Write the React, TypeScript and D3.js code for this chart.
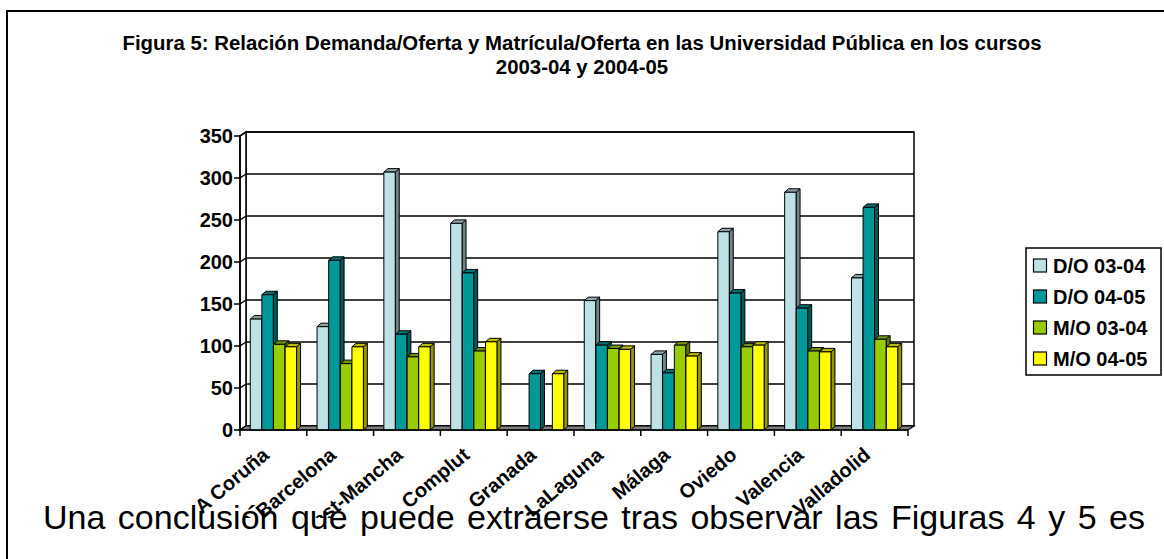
import React from 'react';
import * as d3 from 'd3';

const categories = ['A Coruña', 'A Barcelona', 'Cast-Mancha', 'Complut', 'Granada', 'LaLaguna', 'Málaga', 'Oviedo', 'Valencia', 'Valladolid'];
const seriesNames = ['D/O 03-04', 'D/O 04-05', 'M/O 03-04', 'M/O 04-05'];
const doValues0304 = [132, 123, 307, 246, 0, 154, 90, 236, 283, 181];
const doValues0405 = [161, 202, 114, 187, 67, 101, 68, 163, 145, 265];
const moValues0304 = [102, 79, 87, 94, 0, 97, 101, 99, 94, 108];
const moValues0405 = [99, 99, 99, 105, 67, 96, 88, 101, 93, 99];
const yTicks = [0, 50, 100, 150, 200, 250, 300, 350];
const titleLines = [
  'Figura 5: Relación Demanda/Oferta y Matrícula/Oferta en las Universidad Pública en los cursos',
  '2003-04 y 2004-05',
];
const bodyText = 'Una conclusión que puede extraerse tras observar las Figuras 4 y 5 es';

const seriesValues = [doValues0304, doValues0405, moValues0304, moValues0405];
const colors = ['#BEE1E5', '#009999', '#99CC00', '#FFFF00'];

const FONT = 'Liberation Sans, Arial, sans-serif';

export default function App() {
  const X0 = 240;
  const Y0 = 430;
  const W = 668;
  const H = 294;
  const dx = 6;
  const dy = -4;
  const bdx = 4;
  const bdy = -3.5;

  const y = d3.scaleLinear().domain([0, 350]).range([Y0, Y0 - H]);
  const x0 = d3.scaleBand<string>().domain(categories).range([X0, X0 + W]).padding(0);
  const cw = x0.bandwidth();
  const x1 = d3.scaleBand<string>().domain(seriesNames).range([cw * 0.15, cw * 0.85]).padding(0.02);
  const bw = x1.bandwidth();

  const dark = (c: string, k: number) => d3.color(c)!.darker(k).formatHex();

  return (
    <svg width={1164} height={559} style={{ position: 'absolute', left: 0, top: 0, background: '#fff' }} fontFamily={FONT}>
      <rect x={0} y={0} width={1164} height={559} fill="#fff" />
      <defs>
        <clipPath id="chartClip">
          <rect x={0} y={0} width={1164} height={518} />
        </clipPath>
      </defs>
      {/* outer frame */}
      <rect x={7} y={11} width={1180} height={600} fill="none" stroke="#000" strokeWidth={2} />

      {/* title */}
      {titleLines.map((t, i) => (
        <text key={i} x={582} y={50 + i * 24} textAnchor="middle" fontWeight="bold" fontSize={20.4} fill="#000">
          {t}
        </text>
      ))}

      <g clipPath="url(#chartClip)">
        {/* back wall */}
        <rect x={X0 + dx} y={Y0 - H + dy} width={W} height={H} fill="#fff" stroke="#000" strokeWidth={1.5} />
        {/* left wall */}
        <polygon
          points={`${X0},${Y0} ${X0},${Y0 - H} ${X0 + dx},${Y0 - H + dy} ${X0 + dx},${Y0 + dy}`}
          fill="#fff"
          stroke="#000"
          strokeWidth={1.5}
        />
        {/* gridlines */}
        {yTicks.map((v) => (
          <g key={v}>
            <line x1={X0} y1={y(v)} x2={X0 + dx} y2={y(v) + dy} stroke="#000" strokeWidth={1.5} />
            <line x1={X0 + dx} y1={y(v) + dy} x2={X0 + W + dx} y2={y(v) + dy} stroke="#000" strokeWidth={1.5} />
          </g>
        ))}
        {/* floor */}
        <polygon
          points={`${X0},${Y0} ${X0 + W},${Y0} ${X0 + W + dx},${Y0 + dy} ${X0 + dx},${Y0 + dy}`}
          fill="#808080"
          stroke="#000"
          strokeWidth={1.2}
        />
        {/* bars */}
        {categories.map((c, ci) => (
          <g key={c}>
            {seriesNames.map((s, si) => {
              const v = seriesValues[si][ci];
              if (!v) return null;
              const bx = (x0(c) as number) + (x1(s) as number);
              const by = y(v);
              const col = colors[si];
              return (
                <g key={s} stroke="#000" strokeWidth={1} strokeLinejoin="round">
                  <polygon
                    points={`${bx + bw},${by} ${bx + bw + bdx},${by + bdy} ${bx + bw + bdx},${Y0 + bdy} ${bx + bw},${Y0}`}
                    fill={dark(col, 1.5)}
                  />
                  <polygon
                    points={`${bx},${by} ${bx + bdx},${by + bdy} ${bx + bw + bdx},${by + bdy} ${bx + bw},${by}`}
                    fill={dark(col, 0.9)}
                  />
                  <rect x={bx} y={by} width={bw} height={Y0 - by} fill={col} />
                </g>
              );
            })}
          </g>
        ))}
        {/* front axes */}
        <line x1={X0} y1={Y0} x2={X0} y2={Y0 - H} stroke="#000" strokeWidth={1.5} />
        <line x1={X0} y1={Y0} x2={X0 + W} y2={Y0} stroke="#000" strokeWidth={1.5} />
        {yTicks.map((v) => (
          <g key={'t' + v}>
            <line x1={X0 - 6} y1={y(v)} x2={X0} y2={y(v)} stroke="#000" strokeWidth={1.5} />
            <text x={X0 - 7} y={y(v)} dy="0.36em" textAnchor="end" fontWeight="bold" fontSize={20} fill="#000">
              {v}
            </text>
          </g>
        ))}
        {d3.range(categories.length + 1).map((i) => (
          <line key={'xt' + i} x1={X0 + i * cw} y1={Y0} x2={X0 + i * cw} y2={Y0 + 6} stroke="#000" strokeWidth={1.5} />
        ))}
        {categories.map((c) => {
          const cx = (x0(c) as number) + cw / 2 - 3;
          return (
            <text
              key={'l' + c}
              transform={`translate(${cx},${457}) rotate(-40)`}
              textAnchor="end"
              fontWeight="bold"
              fontSize={20}
              fill="#000"
            >
              {c}
            </text>
          );
        })}
      </g>

      {/* legend */}
      <rect x={1026} y={248} width={135} height={127} fill="#fff" stroke="#000" strokeWidth={1.5} />
      {seriesNames.map((s, i) => {
        const cy = 265.5 + i * 31;
        return (
          <g key={'lg' + s}>
            <rect x={1033.5} y={cy - 6.5} width={13} height={13} fill={colors[i]} stroke="#000" strokeWidth={1.2} />
            <text x={1053} y={cy} dy="0.36em" fontWeight="bold" fontSize={20} fill="#000">
              {s}
            </text>
          </g>
        );
      })}

      {/* body text */}
      <text x={43} y={529} fontSize={34} fill="#000" wordSpacing={3}>
        {bodyText}
      </text>
    </svg>
  );
}
